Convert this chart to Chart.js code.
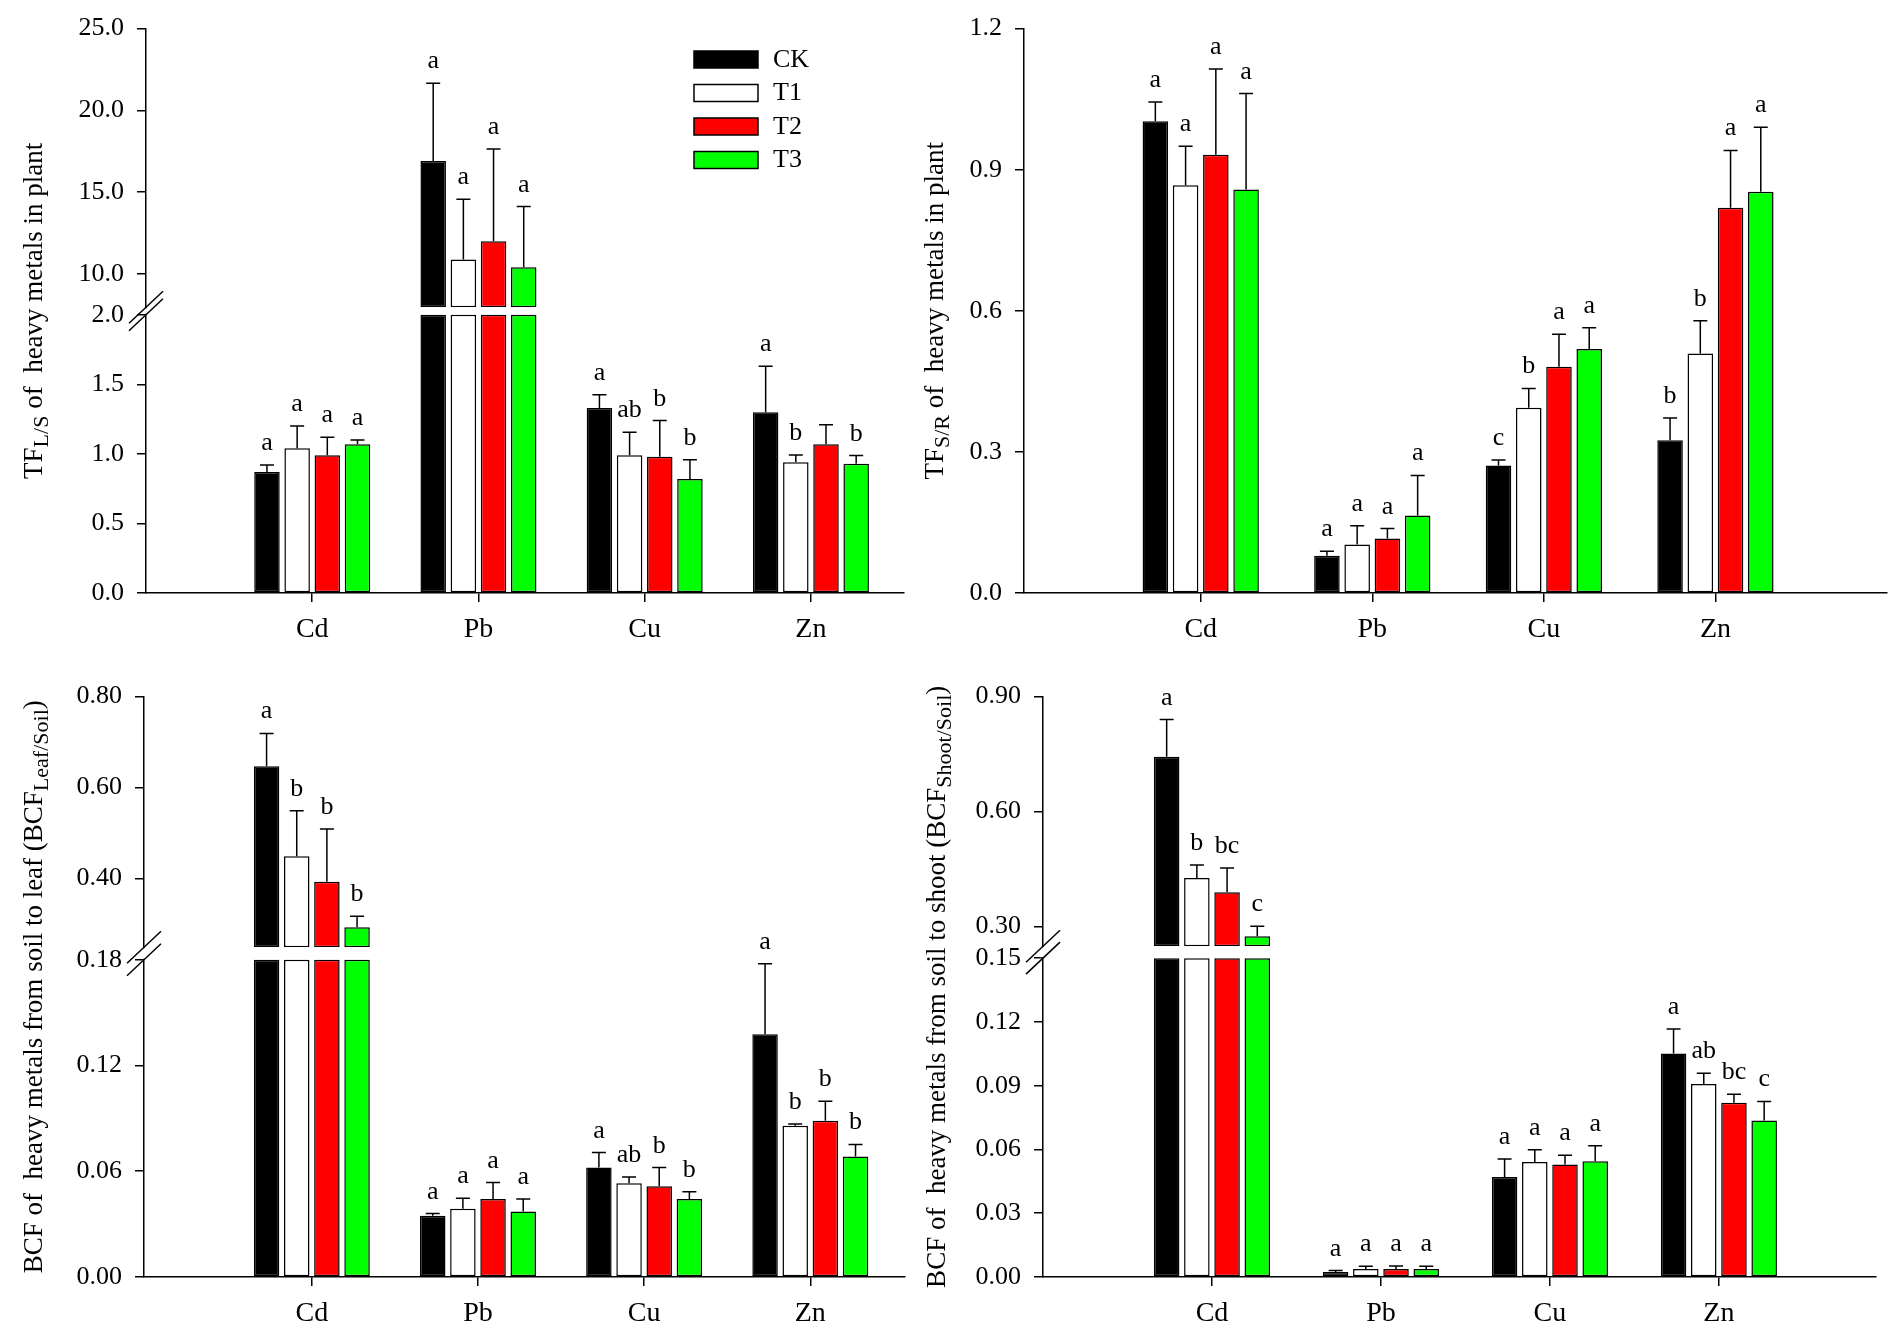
<!DOCTYPE html>
<html>
<head>
<meta charset="utf-8">
<script src="https://cdn.jsdelivr.net/npm/chart.js@4.4.1/dist/chart.umd.min.js"></script>
<style>
  body { margin: 0; background: #fff; width: 1902px; height: 1336px; position: relative; overflow: hidden; }
  canvas { position: absolute; }
</style>
</head>
<body>
<canvas id="tl" width="940" height="668" style="left:0px;top:0px"></canvas>
<canvas id="tr" width="997" height="668" style="left:905px;top:0px"></canvas>
<canvas id="bl" width="940" height="668" style="left:0px;top:668px"></canvas>
<canvas id="br" width="997" height="668" style="left:905px;top:668px"></canvas>
<script>
const metals = ['Cd', 'Pb', 'Cu', 'Zn'];
const treatments = ['CK', 'T1', 'T2', 'T3'];

// TF leaf/shoot  (rows = CK, T1, T2, T3 ; columns = metals)
const tfLS_mean = [
  [0.87, 16.90, 1.33, 1.30],
  [1.04, 10.88, 0.99, 0.94],
  [0.99, 12.00, 0.98, 1.07],
  [1.07, 10.41, 0.82, 0.93]
];
const tfLS_sd = [
  [0.05, 4.76, 0.095, 0.33],
  [0.16, 3.68, 0.165, 0.052],
  [0.13, 5.64, 0.26, 0.14],
  [0.03, 3.71, 0.137, 0.058]
];
const tfLS_sig = [
  ['a', 'a', 'a', 'a'],
  ['a', 'a', 'ab', 'b'],
  ['a', 'a', 'b', ''],
  ['a', 'a', 'b', 'b']
];
const tfLS_lowTicks = [0, 0.5, 1.0, 1.5, 2.0];
const tfLS_highTicks = [10, 15, 20, 25];

// TF shoot/root
const tfSR_mean = [
  [1.003, 0.079, 0.271, 0.325],
  [0.867, 0.103, 0.394, 0.509],
  [0.932, 0.116, 0.481, 0.819],
  [0.858, 0.165, 0.519, 0.853]
];
const tfSR_sd = [
  [0.041, 0.010, 0.012, 0.047],
  [0.083, 0.040, 0.041, 0.070],
  [0.182, 0.021, 0.069, 0.122],
  [0.204, 0.085, 0.045, 0.137]
];
const tfSR_sig = [
  ['a', 'a', 'c', 'b'],
  ['a', 'a', 'b', 'b'],
  ['a', 'a', 'a', 'a'],
  ['a', 'a', 'a', 'a']
];
const tfSR_ticks = [0, 0.3, 0.6, 0.9, 1.2];

// BCF soil -> leaf
const bcfLeaf_mean = [
  [0.647, 0.0348, 0.0621, 0.1377],
  [0.449, 0.0387, 0.0532, 0.0858],
  [0.393, 0.0442, 0.0515, 0.0887],
  [0.293, 0.0372, 0.0442, 0.0684]
];
const bcfLeaf_sd = [
  [0.072, 0.0012, 0.0085, 0.040],
  [0.100, 0.0060, 0.0036, 0.0010],
  [0.116, 0.0094, 0.0106, 0.0110],
  [0.024, 0.0070, 0.0041, 0.0068]
];
const bcfLeaf_sig = [
  ['a', 'a', 'a', 'a'],
  ['b', 'a', 'ab', 'b'],
  ['b', 'a', 'b', 'b'],
  ['b', 'a', 'b', 'b']
];
const bcfLeaf_lowTicks = [0, 0.06, 0.12, 0.18];
const bcfLeaf_highTicks = [0.40, 0.60, 0.80];

// BCF soil -> shoot
const bcfShoot_mean = [
  [0.743, 0.0024, 0.0471, 0.1051],
  [0.426, 0.0038, 0.0541, 0.0908],
  [0.389, 0.0038, 0.0529, 0.0820],
  [0.274, 0.0038, 0.0545, 0.0736]
];
const bcfShoot_sd = [
  [0.097, 0.0006, 0.0084, 0.0116],
  [0.034, 0.0012, 0.0058, 0.0050],
  [0.063, 0.0014, 0.0044, 0.0040],
  [0.026, 0.0012, 0.0072, 0.0090]
];
const bcfShoot_sig = [
  ['a', 'a', 'a', 'a'],
  ['b', 'a', 'a', 'ab'],
  ['bc', 'a', 'a', 'bc'],
  ['c', 'a', 'a', 'c']
];
const bcfShoot_lowTicks = [0, 0.03, 0.06, 0.09, 0.12, 0.15];
const bcfShoot_highTicks = [0.30, 0.60, 0.90];

const fills = ['#000000', '#ffffff', '#ff0000', '#00ff00'];
const serif = '"Liberation Serif", "Times New Roman", serif';

// draw rotated y title with a subscript part
function drawTitle(ctx, parts, x, cy) {
  ctx.save();
  ctx.translate(x, cy);
  ctx.rotate(-Math.PI / 2);
  ctx.fillStyle = '#000';
  ctx.textAlign = 'left';
  ctx.textBaseline = 'alphabetic';
  var total = 0;
  parts.forEach(function (pt) {
    ctx.font = (pt[1] ? 22 : 27) + 'px ' + serif;
    total += ctx.measureText(pt[0]).width;
  });
  var pos = -total / 2;
  parts.forEach(function (pt) {
    ctx.font = (pt[1] ? 22 : 27) + 'px ' + serif;
    ctx.fillText(pt[0], pos, pt[1] ? 6 : 0);
    pos += ctx.measureText(pt[0]).width;
  });
  ctx.restore();
}

function buildPanel(p) {
  const canvas = document.getElementById(p.id);
  const broken = !!p.highTicks;
  const lowMax = p.lowTicks[p.lowTicks.length - 1];
  const nT = treatments.length;

  let datasets = [];
  treatments.forEach(function (t, i) {
    datasets.push({
      label: t,
      stack: t,
      yAxisID: 'yLow',
      data: metals.map((m, j) => ({ x: j, y: [0, Math.min(p.mean[i][j], lowMax)] })),
      backgroundColor: fills[i],
      borderColor: '#000',
      borderWidth: 1.5,
      borderSkipped: false,
      categoryPercentage: p.catPct,
      barPercentage: 0.845
    });
  });
  if (broken) {
    treatments.forEach(function (t, i) {
      datasets.push({
        label: t,
        stack: t,
        yAxisID: 'yHigh',
        data: metals.map((m, j) => ({ x: j, y: p.mean[i][j] > lowMax ? [p.highMin, p.mean[i][j]] : null })),
        backgroundColor: fills[i],
        borderColor: '#000',
        borderWidth: 1.5,
        borderSkipped: false,
        categoryPercentage: p.catPct,
        barPercentage: 0.845
      });
    });
  }

  const yCommon = {
    type: 'linear',
    position: 'left',
    stacked: false,
    afterFit: function (s) { s.width = p.axisX; },
    ticks: {
      font: { family: serif, size: 26 },
      color: '#000',
      padding: 13,
      autoSkip: false,
      callback: function (v) { return v.toFixed(p.digits); }
    },
    grid: { display: true, drawOnChartArea: false, drawTicks: true, tickLength: 9, color: '#000', lineWidth: 1.5 },
    border: { display: true, color: '#000', width: 1.5 }
  };

  let scales = {
    x: {
      type: 'linear',
      position: 'bottom',
      min: p.xMin,
      max: p.xMax,
      offset: false,
      afterBuildTicks: function (s) { s.ticks = metals.map((m, j) => ({ value: j })); },
      afterFit: function (s) { s.height = canvas.height - p.bottom; },
      ticks: {
        font: { family: serif, size: 28 },
        color: '#000',
        padding: 11,
        autoSkip: false,
        maxRotation: 0,
        callback: function (v) { return metals[v]; }
      },
      grid: { display: true, offset: false, drawOnChartArea: false, tickLength: 9, color: '#000', lineWidth: 1.5 },
      border: { display: true, color: '#000', width: 1.5 }
    },
    yLow: Object.assign({}, yCommon, {
      min: 0,
      max: broken ? lowMax * (1 + p.gapPx / p.lowPx) : lowMax,
      weight: 0,
      afterBuildTicks: function (s) { s.ticks = p.lowTicks.map(v => ({ value: v })); }
    })
  };
  if (broken) {
    scales.yLow.stack = 'y';
    scales.yLow.stackWeight = p.lowPx + p.gapPx;
    scales.yHigh = Object.assign({}, yCommon, {
      min: p.highMin,
      max: p.highTicks[p.highTicks.length - 1],
      weight: 1,
      stack: 'y',
      stackWeight: p.highPx,
      afterBuildTicks: function (s) { s.ticks = p.highTicks.map(v => ({ value: v })); }
    });
  }

  const extras = {
    id: 'extras_' + p.id,
    afterDraw: function (chart) {
      const ctx = chart.ctx;
      const area = chart.chartArea;
      const yLow = chart.scales.yLow;
      const yHigh = chart.scales.yHigh;
      ctx.save();
      ctx.strokeStyle = '#000';
      ctx.lineWidth = 1.5;

      // axis break marks
      if (broken) {
        const yA = yHigh.bottom;
        const yB = yLow.getPixelForValue(lowMax);
        const x0 = area.left;
        ctx.fillStyle = '#fff';
        ctx.fillRect(x0 - 3, yA + 1, 6, yB - yA - 2);
        [yA, yB].forEach(function (yy) {
          ctx.beginPath();
          ctx.moveTo(x0 - 17, yy + 16);
          ctx.lineTo(x0 + 17, yy - 16);
          ctx.stroke();
        });
      }

      // error bars and significance letters
      ctx.fillStyle = '#000';
      ctx.font = '26px ' + serif;
      ctx.textAlign = 'center';
      ctx.textBaseline = 'alphabetic';
      for (let i = 0; i < nT; i++) {
        const meta = chart.getDatasetMeta(i);
        for (let j = 0; j < metals.length; j++) {
          const v = p.mean[i][j];
          const top = v + p.sd[i][j];
          const sc = (broken && v > lowMax) ? yHigh : yLow;
          const x = meta.data[j].x;
          const y1 = sc.getPixelForValue(v);
          const y2 = sc.getPixelForValue(top);
          ctx.beginPath();
          ctx.moveTo(x, y1);
          ctx.lineTo(x, y2);
          ctx.moveTo(x - 7, y2);
          ctx.lineTo(x + 7, y2);
          ctx.stroke();
          if (p.sig[i][j]) ctx.fillText(p.sig[i][j], x, y2 - 15);
        }
      }

      // y title
      drawTitle(ctx, p.title, p.titleX, (area.top + area.bottom) / 2);

      // legend
      if (p.legend) {
        ctx.font = '26px ' + serif;
        ctx.textAlign = 'left';
        ctx.textBaseline = 'middle';
        treatments.forEach(function (t, i) {
          const by = 51 + i * 33.5;
          ctx.fillStyle = fills[i];
          ctx.fillRect(694, by, 64, 17);
          ctx.strokeRect(694, by, 64, 17);
          ctx.fillStyle = '#000';
          ctx.fillText(t, 773, by + 9);
        });
      }
      ctx.restore();
    }
  };

  return new Chart(canvas, {
    type: 'bar',
    data: { datasets: datasets },
    options: {
      responsive: false,
      animation: false,
      events: [],
      layout: { padding: { top: p.top, right: p.padR, left: 0, bottom: 0 } },
      plugins: { legend: { display: false }, tooltip: { enabled: false } },
      scales: scales
    },
    plugins: [extras]
  });
}

buildPanel({
  id: 'tl', mean: tfLS_mean, sd: tfLS_sd, sig: tfLS_sig,
  lowTicks: tfLS_lowTicks, highTicks: tfLS_highTicks, highMin: 7.96, digits: 1,
  axisX: 146, top: 25, bottom: 593, padR: 36, xMin: -1.0, xMax: 3.56, catPct: 0.726,
  lowPx: 280, gapPx: 7.5, highPx: 280.5,
  title: [['TF', 0], ['L/S', 1], [' of  heavy metals in plant', 0]], titleX: 42, legend: true
});

buildPanel({
  id: 'tr', mean: tfSR_mean, sd: tfSR_sd, sig: tfSR_sig,
  lowTicks: tfSR_ticks, highTicks: null, digits: 1,
  axisX: 119, top: 21, bottom: 593, padR: 15, xMin: -1.03, xMax: 4.0, catPct: 0.705,
  title: [['TF', 0], ['S/R', 1], [' of  heavy metals in plant', 0]], titleX: 38, legend: false
});

buildPanel({
  id: 'bl', mean: bcfLeaf_mean, sd: bcfLeaf_sd, sig: bcfLeaf_sig,
  lowTicks: bcfLeaf_lowTicks, highTicks: bcfLeaf_highTicks, highMin: 0.249, digits: 2,
  axisX: 144, top: 26.5, bottom: 609, padR: 35, xMin: -1.01, xMax: 3.57, catPct: 0.726,
  lowPx: 318.4, gapPx: 12.6, highPx: 251.5,
  title: [['BCF of  heavy metals from soil to leaf (BCF', 0], ['Leaf/Soil', 1], [')', 0]], titleX: 42, legend: false
});

buildPanel({
  id: 'br', mean: bcfShoot_mean, sd: bcfShoot_sd, sig: bcfShoot_sig,
  lowTicks: bcfShoot_lowTicks, highTicks: bcfShoot_highTicks, highMin: 0.248, digits: 2,
  axisX: 138, top: 26.5, bottom: 609, padR: 26, xMin: -1.0, xMax: 3.93, catPct: 0.715,
  lowPx: 320, gapPx: 12, highPx: 250.5,
  title: [['BCF of  heavy metals from soil to shoot (BCF', 0], ['Shoot/Soil', 1], [')', 0]], titleX: 40, legend: false
});
</script>
</body>
</html>
